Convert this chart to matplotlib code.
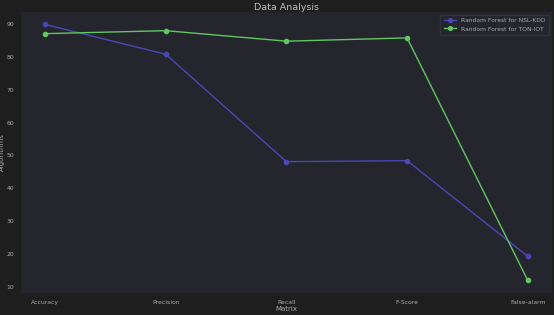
import matplotlib
matplotlib.use("Agg")
import matplotlib.pyplot as plt

categories = ["Accuracy", "Precision", "Recall", "F-Score", "False-alarm"]
nsl_kdd = [89.9, 80.8, 48.1, 48.4, 19.3]
ton_iot = [87.1, 88.0, 84.8, 85.8, 12.0]
series_labels = ["Random Forest for NSL-KDD", "Random Forest for TON-IOT"]

fig = plt.figure(figsize=(5.54, 3.15), dpi=100, facecolor="#1e1e1f")
ax = fig.add_axes([0.038, 0.070, 0.958, 0.893])
ax.set_facecolor("#24252d")

ax.plot(categories, nsl_kdd, color="#4a48b8", marker="o", markersize=3, linewidth=1.0, label=series_labels[0])
ax.plot(categories, ton_iot, color="#62c662", marker="o", markersize=3, linewidth=1.0, label=series_labels[1])

ax.grid(True, color="#27282f", linewidth=0.6)
for s in ax.spines.values():
    s.set_visible(False)
ax.tick_params(colors="#aaaaaa", labelsize=4.4, length=0, pad=5)
ax.set_yticks([10, 20, 30, 40, 50, 60, 70, 80, 90])
ax.set_title("Data Analysis", color="#c0c0c0", fontsize=6.8, pad=1.5)
ax.set_xlabel("Matrix", color="#aaaaaa", fontsize=5, labelpad=1)
ax.set_ylabel("Algorithms", color="#aaaaaa", fontsize=5)
ax.yaxis.set_label_coords(-0.031, 0.5)

leg = ax.legend(loc="upper right", fontsize=4.3, facecolor="#24252d", edgecolor="#303139",
                labelcolor="#aaaaaa", framealpha=1.0, borderpad=0.6, markerscale=0.9)

fig.savefig("out.png", dpi=100, facecolor=fig.get_facecolor())
